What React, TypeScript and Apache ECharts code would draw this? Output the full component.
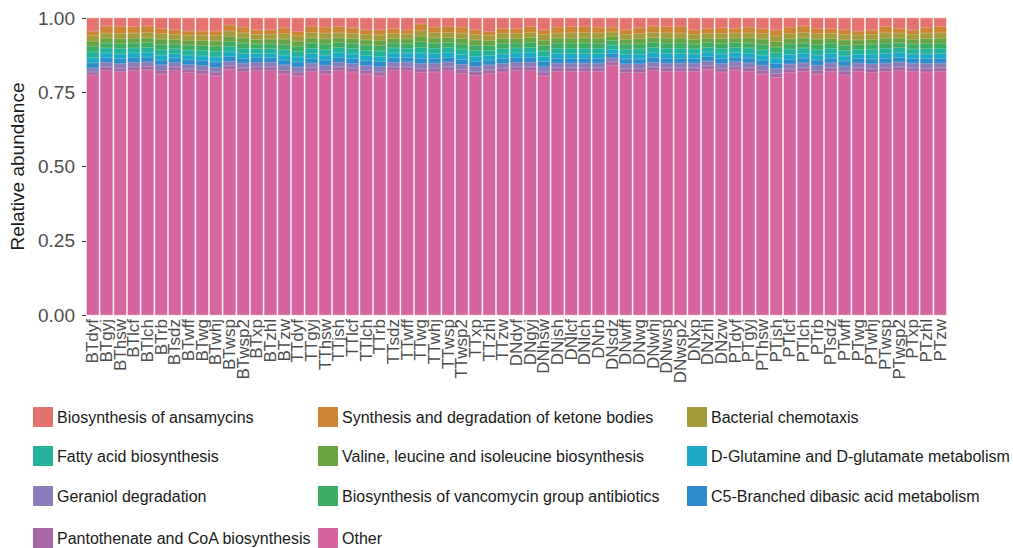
import React, { useEffect, useRef } from "react";
import * as echarts from "echarts";

// Sample names (x axis)
const samples = [
  "BTdyf", "BTgyj", "BThsw", "BTlcf", "BTlch", "BTrb", "BTsdz", "BTwff", "BTwg", "BTwhj", "BTwsp", "BTwsp2", "BTxp", "BTzhl", "BTzw",
  "TTdyf", "TTgyj", "TThsw", "TTjsh", "TTlcf", "TTlch", "TTrb", "TTsdz", "TTwff", "TTwg", "TTwhj", "TTwsp", "TTwsp2", "TTxp", "TTzhl", "TTzw",
  "DNdyf", "DNgyj", "DNhsw", "DNjsh", "DNlcf", "DNlch", "DNrb", "DNsdz", "DNwff", "DNwg", "DNwhj", "DNwsp", "DNwsp2", "DNxp", "DNzhl", "DNzw",
  "PTdyf", "PTgyj", "PThsw", "PTjsh", "PTlcf", "PTlch", "PTrb", "PTsdz", "PTwff", "PTwg", "PTwhj", "PTwsp", "PTwsp2", "PTxp", "PTzhl", "PTzw",
];

// Relative abundance per pathway, one value per sample
const ansamycins = [
  0.044, 0.027, 0.029, 0.029, 0.027, 0.035, 0.040, 0.044, 0.044, 0.044, 0.024, 0.031, 0.040, 0.040, 0.033,
  0.046, 0.029, 0.031, 0.029, 0.033, 0.040, 0.040, 0.035, 0.040, 0.020, 0.031, 0.029, 0.031, 0.040, 0.046, 0.035,
  0.035, 0.029, 0.040, 0.031, 0.029, 0.029, 0.031, 0.031, 0.040, 0.033, 0.027, 0.029, 0.029, 0.040, 0.035, 0.033,
  0.035, 0.031, 0.035, 0.040, 0.031, 0.027, 0.035, 0.035, 0.040, 0.044, 0.040, 0.029, 0.035, 0.040, 0.033, 0.029,
];
const ketoneBodies = [
  0.015, 0.024, 0.023, 0.022, 0.022, 0.018, 0.016, 0.014, 0.015, 0.015, 0.020, 0.019, 0.016, 0.015, 0.020,
  0.014, 0.020, 0.020, 0.021, 0.019, 0.016, 0.017, 0.018, 0.014, 0.022, 0.018, 0.020, 0.020, 0.016, 0.013, 0.017,
  0.017, 0.020, 0.016, 0.020, 0.021, 0.020, 0.019, 0.016, 0.015, 0.019, 0.022, 0.021, 0.022, 0.015, 0.017, 0.019,
  0.016, 0.019, 0.018, 0.020, 0.021, 0.022, 0.018, 0.017, 0.016, 0.014, 0.015, 0.021, 0.016, 0.015, 0.018, 0.021,
];
const chemotaxis = [
  0.019, 0.017, 0.018, 0.017, 0.018, 0.018, 0.016, 0.017, 0.017, 0.018, 0.018, 0.017, 0.016, 0.016, 0.018,
  0.018, 0.018, 0.019, 0.017, 0.017, 0.018, 0.018, 0.016, 0.016, 0.019, 0.018, 0.017, 0.018, 0.018, 0.017, 0.017,
  0.017, 0.017, 0.019, 0.017, 0.018, 0.018, 0.018, 0.015, 0.017, 0.018, 0.017, 0.018, 0.017, 0.017, 0.016, 0.017,
  0.016, 0.017, 0.018, 0.019, 0.018, 0.018, 0.018, 0.017, 0.018, 0.016, 0.017, 0.018, 0.017, 0.017, 0.018, 0.018,
];
const valineLeucine = [
  0.017, 0.016, 0.016, 0.016, 0.016, 0.018, 0.016, 0.016, 0.017, 0.017, 0.017, 0.017, 0.015, 0.016, 0.018,
  0.017, 0.017, 0.018, 0.016, 0.017, 0.017, 0.018, 0.016, 0.016, 0.019, 0.017, 0.016, 0.018, 0.018, 0.016, 0.017,
  0.016, 0.016, 0.018, 0.017, 0.017, 0.017, 0.017, 0.014, 0.016, 0.017, 0.016, 0.017, 0.017, 0.016, 0.015, 0.017,
  0.016, 0.017, 0.018, 0.019, 0.017, 0.017, 0.018, 0.016, 0.018, 0.016, 0.016, 0.017, 0.016, 0.016, 0.017, 0.017,
];
const vancomycin = [
  0.019, 0.017, 0.017, 0.017, 0.016, 0.018, 0.016, 0.017, 0.017, 0.018, 0.017, 0.018, 0.016, 0.016, 0.018,
  0.018, 0.018, 0.019, 0.017, 0.017, 0.018, 0.018, 0.016, 0.016, 0.019, 0.018, 0.017, 0.018, 0.018, 0.017, 0.017,
  0.016, 0.017, 0.018, 0.017, 0.017, 0.018, 0.017, 0.015, 0.017, 0.017, 0.017, 0.017, 0.017, 0.016, 0.016, 0.017,
  0.016, 0.017, 0.018, 0.018, 0.018, 0.017, 0.018, 0.017, 0.018, 0.016, 0.017, 0.017, 0.016, 0.016, 0.017, 0.017,
];
const fattyAcid = [
  0.020, 0.017, 0.018, 0.017, 0.017, 0.018, 0.016, 0.017, 0.018, 0.019, 0.018, 0.018, 0.016, 0.016, 0.018,
  0.018, 0.018, 0.018, 0.017, 0.018, 0.018, 0.019, 0.017, 0.016, 0.019, 0.018, 0.018, 0.018, 0.019, 0.017, 0.018,
  0.017, 0.018, 0.019, 0.018, 0.018, 0.018, 0.018, 0.015, 0.017, 0.018, 0.018, 0.018, 0.018, 0.017, 0.016, 0.018,
  0.017, 0.018, 0.018, 0.019, 0.018, 0.018, 0.018, 0.017, 0.018, 0.016, 0.017, 0.018, 0.017, 0.017, 0.018, 0.018,
];
const dGlutamine = [
  0.017, 0.016, 0.016, 0.016, 0.016, 0.017, 0.015, 0.016, 0.016, 0.017, 0.016, 0.016, 0.015, 0.015, 0.017,
  0.017, 0.016, 0.017, 0.016, 0.016, 0.017, 0.017, 0.016, 0.015, 0.018, 0.016, 0.016, 0.017, 0.017, 0.016, 0.016,
  0.016, 0.016, 0.017, 0.016, 0.016, 0.016, 0.016, 0.014, 0.016, 0.016, 0.016, 0.016, 0.016, 0.016, 0.015, 0.016,
  0.016, 0.016, 0.017, 0.018, 0.016, 0.016, 0.017, 0.016, 0.017, 0.015, 0.016, 0.016, 0.016, 0.016, 0.016, 0.016,
];
const c5Branched = [
  0.017, 0.015, 0.016, 0.015, 0.016, 0.016, 0.015, 0.016, 0.017, 0.018, 0.016, 0.016, 0.015, 0.015, 0.016,
  0.017, 0.016, 0.017, 0.016, 0.016, 0.016, 0.017, 0.015, 0.015, 0.017, 0.016, 0.015, 0.016, 0.017, 0.016, 0.016,
  0.015, 0.016, 0.017, 0.016, 0.016, 0.016, 0.016, 0.014, 0.016, 0.016, 0.016, 0.016, 0.016, 0.015, 0.015, 0.016,
  0.015, 0.016, 0.017, 0.017, 0.016, 0.016, 0.017, 0.016, 0.017, 0.015, 0.016, 0.016, 0.015, 0.015, 0.016, 0.016,
];
const geraniol = [
  0.014, 0.016, 0.016, 0.016, 0.015, 0.018, 0.015, 0.015, 0.015, 0.016, 0.015, 0.016, 0.016, 0.016, 0.018,
  0.017, 0.016, 0.017, 0.016, 0.016, 0.016, 0.018, 0.016, 0.017, 0.018, 0.017, 0.017, 0.018, 0.018, 0.017, 0.016,
  0.016, 0.016, 0.018, 0.016, 0.016, 0.016, 0.016, 0.014, 0.017, 0.017, 0.016, 0.016, 0.016, 0.016, 0.016, 0.017,
  0.016, 0.017, 0.017, 0.017, 0.017, 0.017, 0.017, 0.017, 0.017, 0.016, 0.017, 0.016, 0.017, 0.016, 0.017, 0.016,
];
const pantothenate = [
  0.010, 0.012, 0.012, 0.012, 0.012, 0.013, 0.012, 0.012, 0.013, 0.013, 0.012, 0.013, 0.012, 0.012, 0.013,
  0.013, 0.013, 0.013, 0.012, 0.013, 0.013, 0.013, 0.012, 0.012, 0.013, 0.013, 0.012, 0.013, 0.013, 0.012, 0.013,
  0.012, 0.012, 0.013, 0.012, 0.012, 0.012, 0.012, 0.011, 0.013, 0.013, 0.012, 0.012, 0.012, 0.012, 0.012, 0.012,
  0.012, 0.012, 0.013, 0.013, 0.012, 0.012, 0.013, 0.012, 0.013, 0.012, 0.013, 0.012, 0.012, 0.012, 0.012, 0.012,
];
const other = [
  0.808, 0.823, 0.819, 0.823, 0.825, 0.811, 0.823, 0.816, 0.811, 0.805, 0.827, 0.819, 0.823, 0.823, 0.811,
  0.805, 0.819, 0.811, 0.823, 0.818, 0.811, 0.805, 0.823, 0.823, 0.816, 0.818, 0.823, 0.813, 0.806, 0.813, 0.818,
  0.823, 0.823, 0.805, 0.820, 0.820, 0.820, 0.820, 0.841, 0.816, 0.816, 0.823, 0.820, 0.820, 0.820, 0.827, 0.818,
  0.825, 0.820, 0.811, 0.800, 0.816, 0.820, 0.811, 0.820, 0.808, 0.820, 0.816, 0.820, 0.823, 0.820, 0.818, 0.820,
];

const yTicks = [0, 0.25, 0.5, 0.75, 1];

// Pathways listed bottom of the stack first
const pathways = [
  { name: "Other", values: other, color: "#D6649E" },
  { name: "Pantothenate and CoA biosynthesis", values: pantothenate, color: "#A867A6" },
  { name: "Geraniol degradation", values: geraniol, color: "#8A7DB9" },
  { name: "C5-Branched dibasic acid metabolism", values: c5Branched, color: "#2D8DCA" },
  { name: "D-Glutamine and D-glutamate metabolism", values: dGlutamine, color: "#1CAAC6" },
  { name: "Fatty acid biosynthesis", values: fattyAcid, color: "#25B29B" },
  { name: "Biosynthesis of vancomycin group antibiotics", values: vancomycin, color: "#3CAE63" },
  { name: "Valine, leucine and isoleucine biosynthesis", values: valineLeucine, color: "#69A443" },
  { name: "Bacterial chemotaxis", values: chemotaxis, color: "#A39B3C" },
  { name: "Synthesis and degradation of ketone bodies", values: ketoneBodies, color: "#CB8533" },
  { name: "Biosynthesis of ansamycins", values: ansamycins, color: "#E4736F" },
];

// Legend grid, row by row
const legendRows = [
  ["Biosynthesis of ansamycins", "Synthesis and degradation of ketone bodies", "Bacterial chemotaxis"],
  ["Fatty acid biosynthesis", "Valine, leucine and isoleucine biosynthesis", "D-Glutamine and D-glutamate metabolism"],
  ["Geraniol degradation", "Biosynthesis of vancomycin group antibiotics", "C5-Branched dibasic acid metabolism"],
  ["Pantothenate and CoA biosynthesis", "Other"],
];
const legendColLefts = [33, 318, 687];
const legendRowTops = [407, 446, 486, 528];

const FONT = "'Liberation Sans', Arial, Helvetica, sans-serif";

export default function App() {
  const ref = useRef<HTMLDivElement>(null);

  useEffect(() => {
    if (!ref.current) return;
    const chart = echarts.init(ref.current, undefined, { renderer: "svg" });

    const legends: any[] = [];
    legendRows.forEach((row, r) => {
      row.forEach((name, c) => {
        legends.push({
          show: true,
          orient: "horizontal",
          left: legendColLefts[c],
          top: legendRowTops[r],
          padding: 0,
          itemWidth: 18,
          itemHeight: 18,
          icon: "rect",
          selectedMode: false,
          data: [name],
          textStyle: { fontFamily: FONT, fontSize: 16, color: "#1a1a1a" },
        });
      });
    });

    chart.setOption({
      animation: false,
      backgroundColor: "#ffffff",
      textStyle: { fontFamily: FONT },
      grid: { left: 86, right: 66, top: 18, bottom: 233, containLabel: false },
      legend: legends,
      xAxis: {
        type: "category",
        data: samples,
        axisLine: { show: false },
        axisTick: { show: false },
        axisLabel: {
          rotate: 90,
          interval: 0,
          margin: 4,
          fontFamily: FONT,
          fontSize: 17,
          color: "#4d4d4d",
        },
      },
      yAxis: {
        type: "value",
        min: yTicks[0],
        max: yTicks[yTicks.length - 1],
        interval: yTicks[1] - yTicks[0],
        name: "Relative abundance",
        nameLocation: "middle",
        nameGap: 58,
        nameTextStyle: { fontFamily: FONT, fontSize: 19, color: "#1a1a1a" },
        axisLine: { show: false },
        axisTick: { show: true, length: 4, lineStyle: { color: "#333333", width: 1 } },
        splitLine: { show: false },
        axisLabel: {
          margin: 11,
          fontFamily: FONT,
          fontSize: 19,
          color: "#4d4d4d",
          formatter: (v: number) => v.toFixed(2),
        },
      },
      series: pathways.map((p) => ({
        name: p.name,
        type: "bar",
        stack: "total",
        data: p.values,
        barCategoryGap: "10%",
        itemStyle: { color: p.color, borderColor: p.color, borderWidth: 0.6 },
        emphasis: { disabled: true },
      })),
    });

    return () => chart.dispose();
  }, []);

  return (
    <div
      ref={ref}
      style={{ position: "absolute", left: 0, top: 0, width: 1013, height: 548, overflow: "hidden" }}
    />
  );
}
